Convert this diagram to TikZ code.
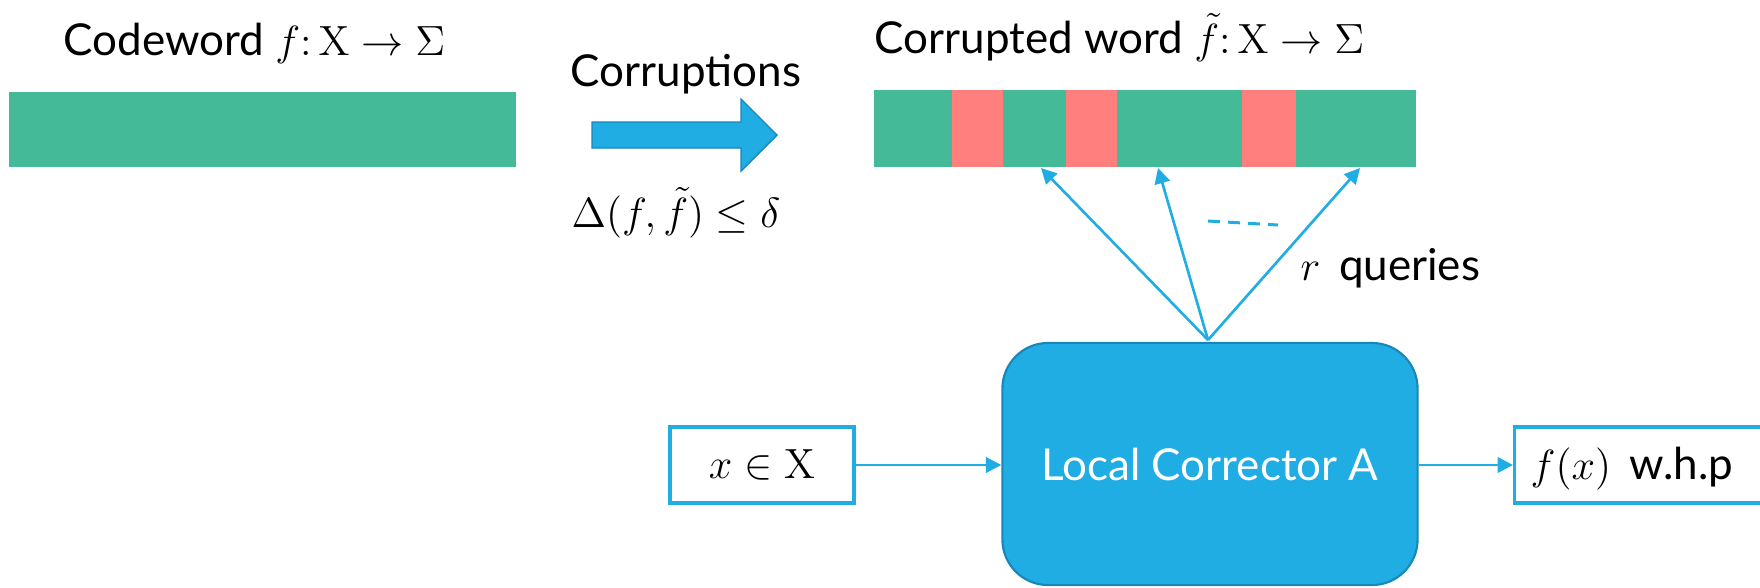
\documentclass[tikz,border=0pt]{standalone}
\usepackage[no-math]{fontspec}
\setmainfont{Lato}
\usetikzlibrary{arrows.meta}
\definecolor{codegreen}{HTML}{44BA98}
\definecolor{errred}{HTML}{FF7E7E}
\definecolor{accent}{HTML}{1FADE3}
\definecolor{accentdark}{HTML}{1A86B8}
\begin{document}
\begin{tikzpicture}[x=0.01cm,y=-0.01cm,
  font=\fontsize{12.5}{15}\selectfont,
  label text/.style={inner sep=0pt, anchor=base west},
  link/.style={draw=accent, line width=0.75pt, -{Triangle[length=4.4pt,width=4.4pt]}},
  iobox/.style={draw=accent, line width=0.9pt, fill=white, inner sep=0pt},
  corrector/.style={draw=accentdark, line width=0.6pt, fill=accent, rounded corners=13pt,
    minimum width=4.15cm, minimum height=2.42cm, inner sep=0pt, text=white}]
\useasboundingbox (0,0) rectangle (1760,587);

% original codeword
\node[label text] (cwlabel) at (63,55) {Codeword $f\colon \mathrm{X}\rightarrow\Sigma$};
\fill[codegreen] (9,92) rectangle (516,167);

% corruption step
\node[inner sep=0pt, anchor=base] (corr) at (686,86) {Corruptions};
\fill[accent, draw=accentdark, line width=0.4pt]
  (592,122) -- (741,122) -- (741,99) -- (777,135) -- (741,171) -- (741,148) -- (592,148) -- cycle;
\node[inner sep=0pt, anchor=base] (dist) at (676,227) {$\Delta\bigl(f,\tilde f\bigr)\le\delta$};

% corrupted word
\node[label text] (cwtlabel) at (874,53) {Corrupted word $\tilde f\colon \mathrm{X}\rightarrow\Sigma$};
\fill[codegreen] (874,90) rectangle (1416,167);
\fill[errred] (952,90) rectangle (1003,167);
\fill[errred] (1066,90) rectangle (1117,167);
\fill[errred] (1242,90) rectangle (1296,167);
\coordinate (q1) at (1041,168);
\coordinate (q2) at (1158,168);
\coordinate (q3) at (1360,168);

% local corrector and its input / output
\node[corrector] (lc) at (1210,464) {Local Corrector A};
\node[iobox, minimum width=1.84cm, minimum height=0.76cm] (in) at (762,465) {$x\in\mathrm{X}$};
\node[iobox, minimum width=2.6cm, minimum height=0.76cm, anchor=west] (out) at (1513,465) {};
\node[label text] (outtext) at (1530,479) {$f(x)$\, w.h.p};

\draw[link] (in.east) -- (lc.west |- in.east);
\draw[link] (lc.east |- out.west) -- (out.west);

% queries
\coordinate (apex) at (1208,340);
\draw[link] (apex) -- (q1);
\draw[link] (apex) -- (q2);
\draw[link] (apex) -- (q3);
\draw[accent, line width=0.85pt, dash pattern=on 1.2mm off 0.8mm] (1208,221) -- (1278,225);
\node[label text] (rq) at (1300,280) {$r$\, queries};
\end{tikzpicture}
\end{document}
